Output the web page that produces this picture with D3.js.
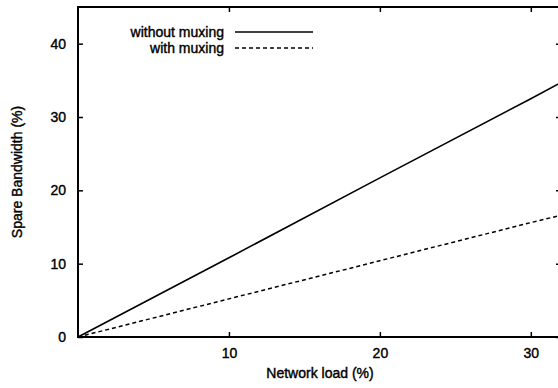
<!DOCTYPE html>
<html><head><meta charset="utf-8">
<script src="https://cdn.jsdelivr.net/npm/d3@7"></script>
<style>
body{margin:0;background:#fff}
svg text{font-family:"Liberation Sans",Arial,sans-serif;fill:#000}
</style></head>
<body><svg id="c" width="558" height="388"></svg>
<script>
const loads = [0, 10, 20, 30, 32];
const withoutMuxing = [0, 10.8, 21.7, 32.5, 34.7];
const withMuxing = [0, 5.2, 10.4, 15.6, 16.6];
const xTicks = [10, 20, 30];
const yTicks = [0, 10, 20, 30, 40];
const seriesNames = ["without muxing", "with muxing"];

const svg = d3.select("#c");
const x = d3.scaleLinear().domain([0, 32]).range([78, 561]);
const y = d3.scaleLinear().domain([0, 45]).range([337, 7]);

// frame
svg.append("rect").attr("x", x(0)).attr("y", y(45)).attr("width", x(32) - x(0)).attr("height", y(0) - y(45))
  .attr("fill", "none").attr("stroke", "#000").attr("stroke-width", 2);

// bottom axis
const xb = svg.append("g").attr("transform", `translate(0,${y(0)})`)
  .call(d3.axisBottom(x).tickValues(xTicks).tickSize(-5).tickPadding(11).tickFormat(d3.format("d")));
const xt = svg.append("g").attr("transform", `translate(0,${y(45)})`)
  .call(d3.axisTop(x).tickValues(xTicks).tickSize(-5).tickFormat(""));
const yl = svg.append("g").attr("transform", `translate(${x(0)},0)`)
  .call(d3.axisLeft(y).tickValues(yTicks).tickSize(-5).tickPadding(12).tickFormat(d3.format("d")));
const yr = svg.append("g").attr("transform", `translate(${x(32)},0)`)
  .call(d3.axisRight(y).tickValues(yTicks).tickSize(-5).tickFormat(""));
[xb, xt, yl, yr].forEach(g => {
  g.select(".domain").remove();
  g.selectAll(".tick line").attr("stroke", "#000").attr("stroke-width", 1.5);
  g.selectAll("text").attr("font-size", 14).attr("font-family", "Liberation Sans, Arial, sans-serif")
    .attr("fill", "#000").attr("stroke", "#000").attr("stroke-width", 0.4);
});

// lines
const line = d3.line().x((d, i) => x(loads[i])).y(d => y(d));
svg.append("path").datum(withoutMuxing).attr("d", line).attr("fill", "none").attr("stroke", "#000").attr("stroke-width", 1.6);
svg.append("path").datum(withMuxing).attr("d", line).attr("fill", "none").attr("stroke", "#000").attr("stroke-width", 1.5).attr("stroke-dasharray", "4,3");

// legend
const leg = [{y: 32, dash: null}, {y: 48, dash: "4,3"}];
leg.forEach((l, i) => {
  svg.append("text").attr("x", 224).attr("y", l.y).attr("dy", "0.35em").attr("text-anchor", "end")
    .attr("font-size", 14).attr("stroke", "#000").attr("stroke-width", 0.4).text(seriesNames[i]);
  svg.append("line").attr("x1", 235).attr("x2", 313).attr("y1", l.y).attr("y2", l.y)
    .attr("stroke", "#000").attr("stroke-width", 1.5).attr("stroke-dasharray", l.dash);
});

// axis titles
svg.append("text").attr("x", 320).attr("y", 378).attr("text-anchor", "middle").attr("font-size", 14)
  .attr("stroke", "#000").attr("stroke-width", 0.4).text("Network load (%)");
svg.append("text").attr("transform", `translate(22,172) rotate(-90)`).attr("text-anchor", "middle").attr("font-size", 14)
  .attr("stroke", "#000").attr("stroke-width", 0.4).text("Spare Bandwidth (%)");
</script></body></html>
